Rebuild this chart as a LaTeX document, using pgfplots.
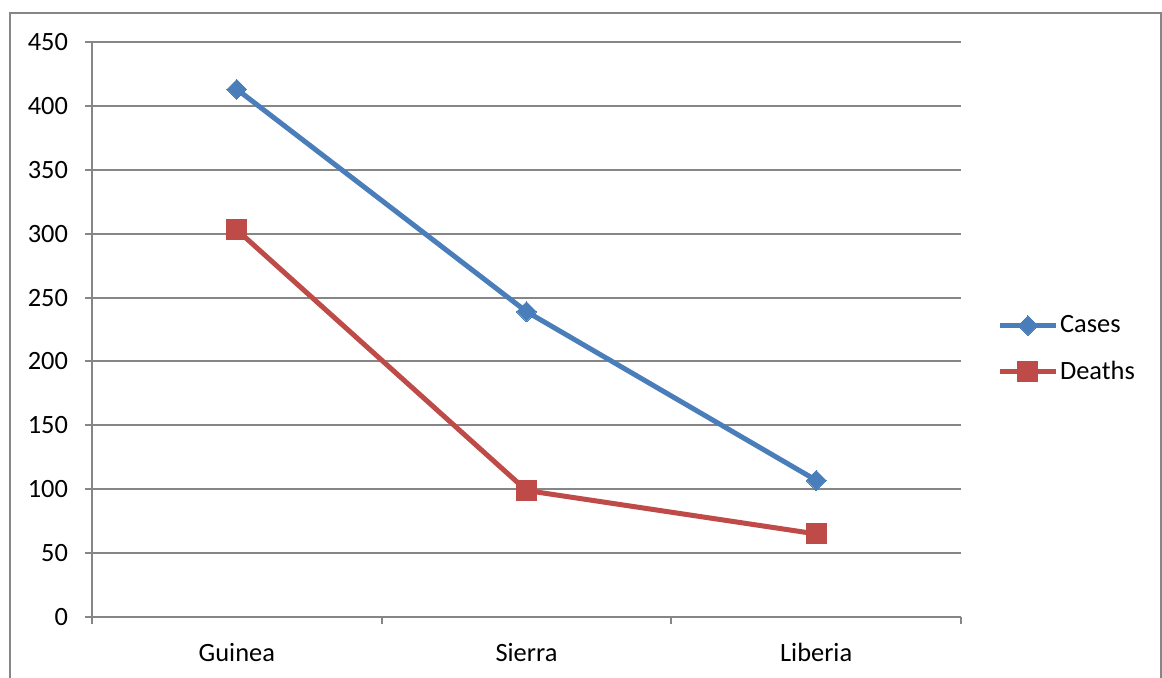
\documentclass[border=0pt]{standalone}
\usepackage{pgfplots}
\pgfplotsset{compat=1.18}
\usepackage{fontspec}
\setmainfont{Carlito}

\definecolor{casesblue}{HTML}{4A7EBB}
\definecolor{deathsred}{HTML}{BE4B48}
\definecolor{gridgray}{HTML}{868686}

\newcommand{\lblfont}{\fontsize{13.2pt}{15pt}\selectfont}

\begin{document}
\begin{tikzpicture}
  \useasboundingbox (0pt,0pt) rectangle (581pt,339pt);
  \begin{scope}
    \clip (0pt,0pt) rectangle (581pt,339pt);
    \draw[gridgray, line width=1pt, fill=white] (5pt,-5pt) rectangle (580.5pt,332.5pt);
  \end{scope}
  \begin{axis}[
    at={(46pt,30.5pt)}, anchor=south west,
    width=434.5pt, height=287.5pt, scale only axis,
    xmin=-0.5, xmax=2.5,
    ymin=0, ymax=450,
    ytick={0,50,...,450},
    xtick={0,1,2},
    xticklabels={Guinea,Sierra,Liberia},
    minor xtick={-0.5,0.5,1.5,2.5},
    axis lines*=left,
    axis line style={gridgray, line width=1pt},
    ymajorgrids,
    grid style={gridgray, line width=1pt},
    tick align=outside,
    major tick length=3.5pt,
    minor tick length=3.5pt,
    every tick/.style={gridgray, line width=1pt},
    major x tick style={draw=none},
    /pgf/number format/assume math mode=true,
    tick label style={font=\lblfont, text=black},
    xticklabel style={yshift=-6pt},
    yticklabel style={xshift=-5pt},
    legend style={
      draw=none, fill=none,
      at={(1.0415,0.4665)}, anchor=west,
      font=\lblfont,
      row sep=11pt,
      inner sep=0pt,
      nodes={inner sep=0.8pt},
    },
    legend cell align=left,
    legend image code/.code={
      \draw[mark repeat=2, mark phase=2, #1]
        plot coordinates {(0pt,0pt) (14pt,0pt) (28pt,0pt)};
    },
  ]
    \addplot[casesblue, line width=2.5pt,
      mark=square*, mark size=3.5pt,
      mark options={rotate=45, solid, line width=0pt}]
      coordinates {(0,413) (1,239) (2,107)};
    \addlegendentry{Cases}
    \addplot[deathsred, line width=2.5pt,
      mark=square*, mark size=5pt,
      mark options={solid, line width=0pt}]
      coordinates {(0,303) (1,99) (2,65)};
    \addlegendentry{Deaths}
  \end{axis}
\end{tikzpicture}
\end{document}
